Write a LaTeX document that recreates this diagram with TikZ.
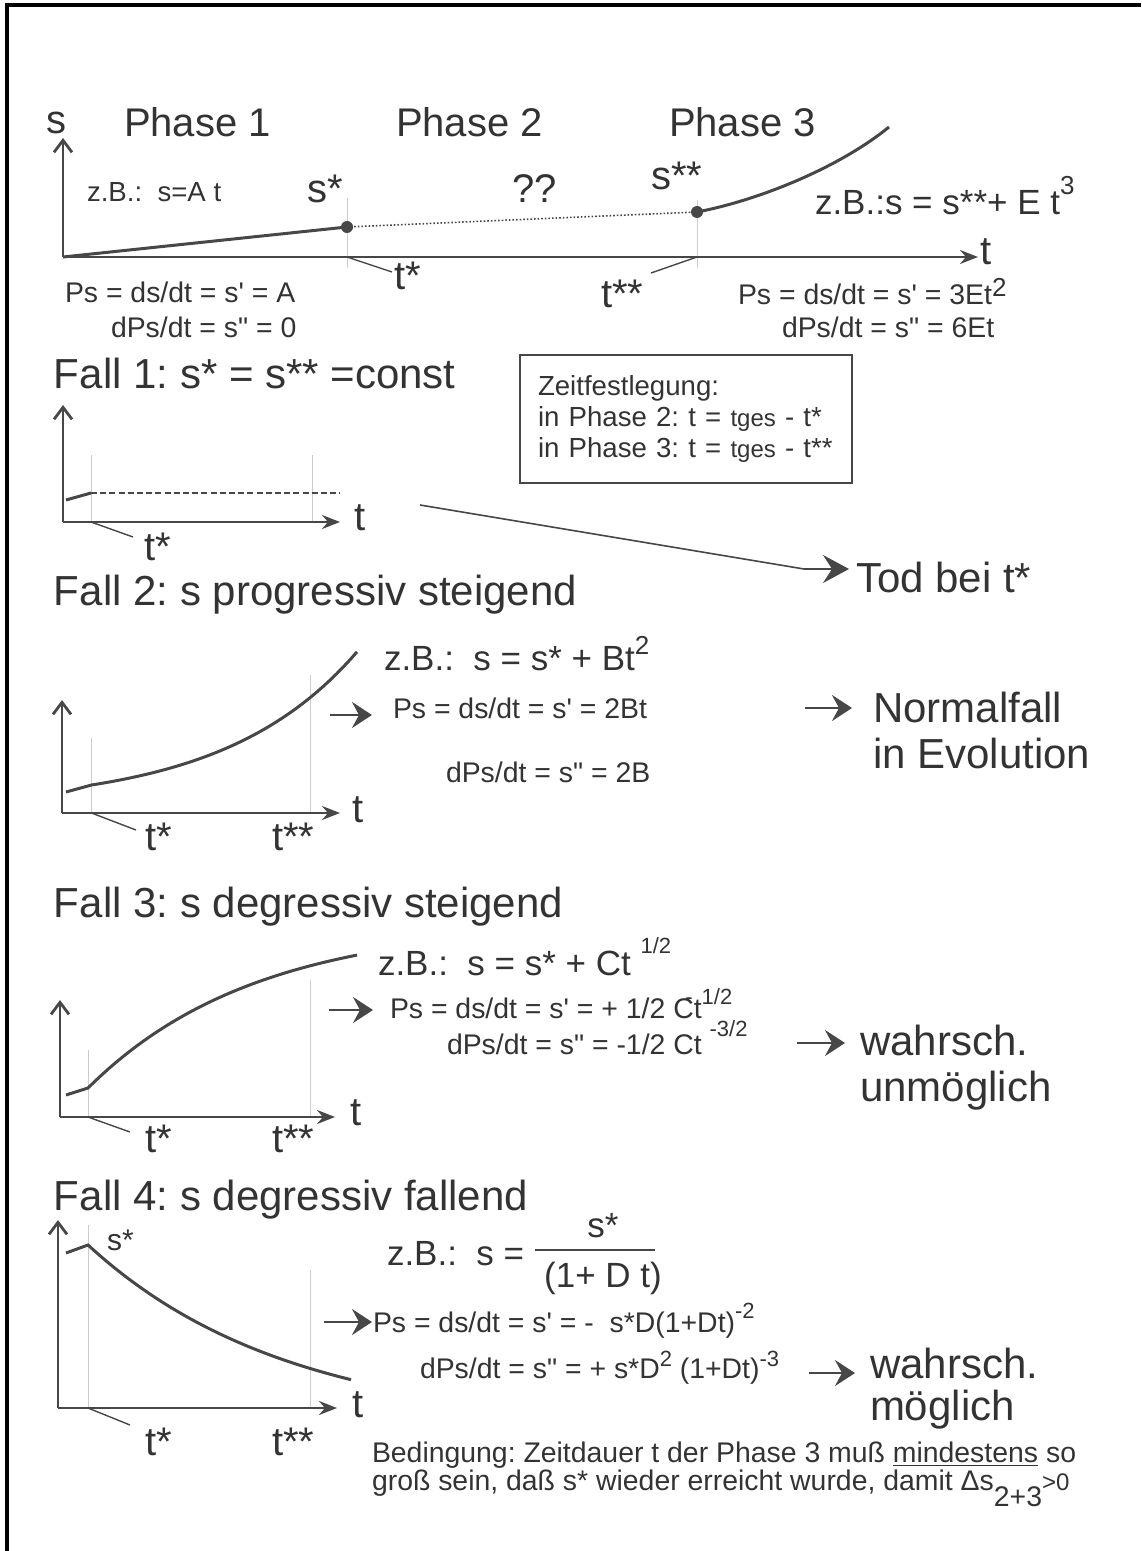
\documentclass[tikz,border=0pt]{standalone}
\usepackage{fontspec}
\setmainfont{Liberation Sans}
\usetikzlibrary{arrows.meta,positioning}

\definecolor{ink}{HTML}{333333}
\definecolor{axisgray}{HTML}{474747}

\newcommand{\fsHead}{\fontsize{21}{23}\selectfont}
\newcommand{\fsPhase}{\fontsize{20}{23}\selectfont}
\newcommand{\fsEx}{\fontsize{17.5}{20}\selectfont}
\newcommand{\fsForm}{\fontsize{14.2}{16}\selectfont}
\newcommand{\pr}{\textquotesingle}
\newcommand{\dpr}{\textquotedbl}
\newcommand{\up}[2]{\raisebox{#1}{\fontsize{11}{13}\selectfont #2}}
\newcommand{\upb}[2]{\raisebox{#1}{\fontsize{13}{15}\selectfont #2}}
\frenchspacing

\begin{document}
\begin{tikzpicture}[x=0.5pt,y=-0.5pt,
    every node/.style={inner sep=0pt,outer sep=0pt,text=ink},
    txt/.style={anchor=base west},
    xaxis/.style={draw=axisgray,line width=1.4pt,-{Stealth[length=9pt,width=7pt,inset=3pt]}},
    yaxis/.style={draw=axisgray,line width=1.4pt,-{Straight Barb[length=6pt,width=9pt]}},
    curve/.style={draw=axisgray,line width=1.5pt},
    guide/.style={draw=gray!40,line width=0.4pt},
    tick/.style={draw=axisgray,line width=0.7pt},
    bigarrow/.style={draw=axisgray,line width=1.2pt,-{Stealth[length=10pt,width=13pt,inset=3.5pt]}},
    zeitbox/.style={draw=axisgray,line width=0.8pt,anchor=north west,align=left,
        text width=148pt,minimum height=64pt,inner xsep=9pt,inner ysep=7pt,
        font=\fontsize{13.8}{15.5}\selectfont}
  ]
  \useasboundingbox (0,0) rectangle (1141,1551);
  % frame (top and left only)
  \draw[line width=1.6pt,black] (1141,5) -- (7,5) -- (7,1551);

  % --- overview: phases 1 to 3
  \coordinate (O) at (63,257);
  \coordinate (sa) at (347,227);
  \coordinate (sb) at (697,212);
  \draw[guide] (347,198) -- (347,268);
  \draw[guide] (697,200) -- (697,268);
  \draw[yaxis] (O) -- (63,138);
  \draw[xaxis] (O) -- (978,257);
  \draw[curve] (O) -- (sa);
  \draw[axisgray,densely dotted,line width=0.8pt] (sa) -- (sb);
  \draw[curve] (sb) .. controls (760,200) and (840,167) .. (889,127);
  \fill[axisgray] (sa) circle (3pt);
  \fill[axisgray] (sb) circle (3pt);

  \node[txt] (s0) at (46,134) {\fsPhase s};
  \node[txt] (t0) at (980,265) {\fsPhase t};
  \node[txt] (ph1) at (124,137) {\fsPhase Phase 1};
  \node[txt] (ph2) at (396,137) {\fsPhase Phase 2};
  \node[txt] (ph3) at (669,137) {\fsPhase Phase 3};
  \node[txt] (sst) at (307,203) {\fsPhase s*};
  \node[txt] (ssst) at (651,190) {\fsPhase s**};
  \node[txt] (qq) at (512,203) {\fsPhase ??};
  \node[txt] (ex1) at (87,202) {\fontsize{13.8}{16}\selectfont z.B.:\ \ s=A t};
  \node[txt] (ex3) at (815,215) {\fsEx z.B.:s = s**+ E t\upb{10pt}{3}};

  \node[txt] (tst) at (394,290) {\fsPhase t*};
  \node[txt] (tsst) at (601,307) {\fsPhase t**};
  \coordinate (ta) at (347,257);
  \coordinate (tb) at (697,257);
  \coordinate (taend) at (392,272);
  \coordinate (tbend) at (651,273);
  \draw[tick] (ta) -- (taend);
  \draw[tick] (tb) -- (tbend);

  \node[txt] (ps1) at (65,303) {\fsForm Ps = ds/dt = s\pr{} = A};
  \node[txt] (dps1) at (111,337) {\fsForm dPs/dt = s\dpr{} = 0};
  \node[txt] (ps3) at (738,305) {\fsForm Ps = ds/dt = s\pr{} = 3Et\upb{4pt}{2}};
  \node[txt] (dps3) at (782,338) {\fsForm dPs/dt = s\dpr{} = 6Et};

  % --- Fall 1
  \node[txt] (fall1) at (54,388) {\fsHead Fall 1: s* = s** =const};
  \node[zeitbox] (zeit) at (520,355) {Zeitfestlegung:\\
    in Phase 2: t = {\fontsize{12}{14}\selectfont tges} - t*\\
    in Phase 3: t = {\fontsize{12}{14}\selectfont tges} - t**};

  \draw[guide] (91,455) -- (91,522);
  \draw[guide] (312,455) -- (312,522);
  \draw[yaxis] (63,522) -- (63,405);
  \draw[xaxis] (63,522) -- (340,522);
  \draw[curve] (66,500) -- (91,493);
  \draw[axisgray,line width=1pt,dash pattern=on 3pt off 1.6pt] (91,493) -- (340,493);
  \node[txt] (t1) at (354,530) {\fsPhase t};
  \node[txt] (t1a) at (144,560) {\fsPhase t*};
  \coordinate (t1from) at (91,522);
  \coordinate (t1end) at (133,537);
  \draw[tick] (t1from) -- (t1end);

  \node[txt] (tod) at (856,592) {\fsHead Tod bei t*};
  \coordinate (todfrom) at (420,505);
  \coordinate (todbend) at (804,569);
  \draw[draw=axisgray,line width=0.8pt,-{Stealth[length=13pt,width=14pt,inset=4.5pt]},shorten >=3.5pt]
    (todfrom) -- (todbend) -- (todbend -| tod.west);

  % --- Fall 2
  \node[txt] (fall2) at (54,605) {\fsHead Fall 2: s progressiv steigend};
  \draw[guide] (91.5,738) -- (91.5,813);
  \draw[guide] (310,675) -- (310,813);
  \draw[yaxis] (62,813) -- (62,700);
  \draw[xaxis] (62,813) -- (340,813);
  \draw[curve] (66,792) -- (91.5,785)
    -- plot[domain=91.5:357,samples=40] (\x,{785-21*(exp(0.0075*(\x-91.5))-1)});
  \node[txt] (t2) at (352,822) {\fsPhase t};
  \node[txt] (t2a) at (145,850) {\fsPhase t*};
  \node[txt] (t2b) at (272,850) {\fsPhase t**};
  \coordinate (t2from) at (91.5,813);
  \coordinate (t2end) at (136,830);
  \draw[tick] (t2from) -- (t2end);

  \node[txt] (ex2) at (384,670) {\fsEx z.B.:\ \ s = s* + Bt\upb{8pt}{2}};
  \node[txt] (ps2) at (393,718) {\fsForm Ps = ds/dt = s\pr{} = 2Bt};
  \node[txt] (dps2) at (446,782) {\fsForm dPs/dt = s\dpr{} = 2B};
  \coordinate (a2s) at (330,715);
  \coordinate (a2e) at (372,715);
  \draw[bigarrow] (a2s) -- (a2e);
  \node[txt] (nf1) at (873,722) {\fsHead Normalfall};
  \node[txt] (nf2) at (873,768) {\fsHead in Evolution};
  \coordinate (b2s) at (805,708);
  \coordinate (b2e) at (852,708);
  \draw[bigarrow] (b2s) -- (b2e);

  % --- Fall 3
  \node[txt] (fall3) at (54,917) {\fsHead Fall 3: s degressiv steigend};
  \draw[guide] (88,1050) -- (88,1117);
  \draw[guide] (310,980) -- (310,1117);
  \draw[yaxis] (60,1117) -- (60,1000);
  \draw[xaxis] (60,1117) -- (335,1117);
  \draw[curve] (66,1095) -- (88,1088)
    -- plot[domain=88:357,samples=40] (\x,{1088-166*(1-exp(-0.006*(\x-88)))});
  \node[txt] (t3) at (350,1125) {\fsPhase t};
  \node[txt] (t3a) at (145,1152) {\fsPhase t*};
  \node[txt] (t3b) at (272,1152) {\fsPhase t**};
  \coordinate (t3from) at (88,1117);
  \coordinate (t3end) at (130,1132);
  \draw[tick] (t3from) -- (t3end);

  \node[txt] (ex3c) at (378,975) {\fsEx z.B.:\ \ s = s* + Ct\ \up{11pt}{1/2}};
  \node[txt] (ps3c) at (390,1018) {\fsForm Ps = ds/dt = s\pr{} = + 1/2 C\llap{\up{7pt}{-}\kern0.5pt}t\up{7pt}{1/2}};
  \node[txt] (dps3c) at (447,1054) {\fsForm dPs/dt = s\dpr{} = -1/2 Ct \up{9pt}{-3/2}};
  \coordinate (a3s) at (329,1010);
  \coordinate (a3e) at (373,1010);
  \draw[bigarrow] (a3s) -- (a3e);
  \node[txt] (w3a) at (860,1055) {\fsHead wahrsch.};
  \node[txt] (w3b) at (860,1101) {\fsHead unmöglich};
  \coordinate (b3s) at (797,1043);
  \coordinate (b3e) at (845,1043);
  \draw[bigarrow] (b3s) -- (b3e);

  % --- Fall 4
  \node[txt] (fall4) at (54,1210) {\fsHead Fall 4: s degressiv fallend};
  \draw[guide] (88,1225) -- (88,1408);
  \draw[guide] (310,1270) -- (310,1408);
  \draw[yaxis] (58,1408) -- (58,1220);
  \draw[xaxis] (58,1408) -- (337,1408);
  \draw[curve] (66,1253) -- (88,1245)
    -- plot[domain=88:351,samples=40] (\x,{1245+184*(1-exp(-0.005*(\x-88)))});
  \node[txt] (s4) at (107,1250) {\fontsize{15}{17}\selectfont s*};
  \node[txt] (t4) at (352,1417) {\fsPhase t};
  \node[txt] (t4a) at (145,1455) {\fsPhase t*};
  \node[txt] (t4b) at (272,1455) {\fsPhase t**};
  \coordinate (t4from) at (88,1408);
  \coordinate (t4end) at (130,1425);
  \draw[tick] (t4from) -- (t4end);

  \node[txt] (ex4) at (387,1265) {\fsEx z.B.:\ \ s =};
  \node[anchor=base] (num4) at (603,1237) {\fsEx s*};
  \node[anchor=base] (den4) at (603,1287) {\fsEx (1+ D t)};
  \draw[axisgray,line width=0.8pt] (535,1250) -- (655,1250);
  \node[txt] (ps4) at (373,1332) {\fsForm Ps = ds/dt = s\pr{} = -\ \ s*D(1+Dt)\up{7pt}{-2}};
  \node[txt] (dps4) at (420,1378) {\fsForm dPs/dt = s\dpr{} = + s*D\up{6pt}{2} (1+Dt)\up{6pt}{-3}};
  \coordinate (a4s) at (324,1322);
  \coordinate (a4e) at (372,1322);
  \draw[bigarrow] (a4s) -- (a4e);
  \node[txt] (w4a) at (870,1378) {\fsHead wahrsch.};
  \node[txt] (w4b) at (870,1420) {\fsHead möglich};
  \coordinate (b4s) at (809,1373);
  \coordinate (b4e) at (855,1373);
  \draw[bigarrow] (b4s) -- (b4e);

  % --- condition
  \node[txt] (bed1) at (372,1462) {\fsForm Bedingung: Zeitdauer t der Phase 3 muß \underline{mindestens} so};
  \node[txt] (bed2) at (372,1490) {\fsForm groß sein, daß s* wieder erreicht wurde, damit Δs\raisebox{-8pt}{2+3}{\fontsize{12}{14}\selectfont >0}};
\end{tikzpicture}
\end{document}
